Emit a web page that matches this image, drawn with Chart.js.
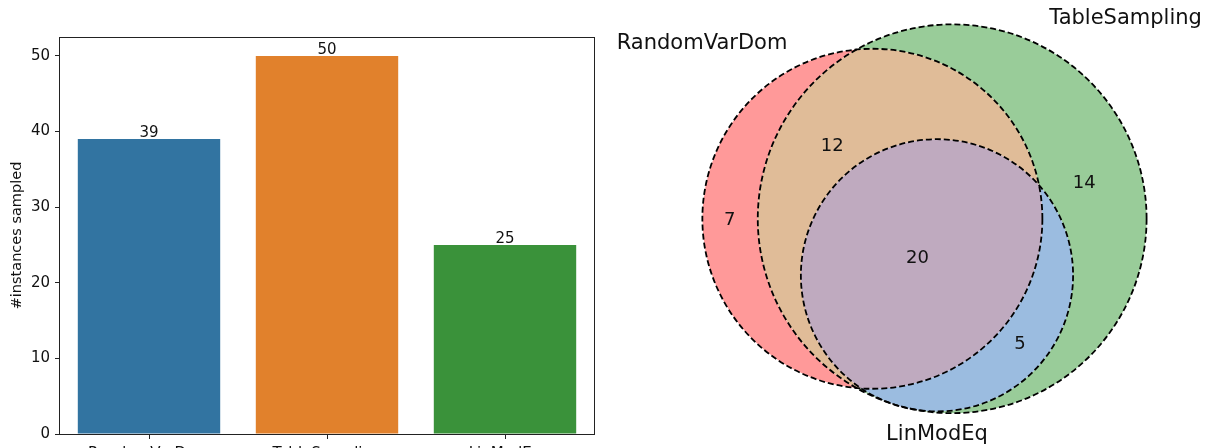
<!DOCTYPE html>
<html>
<head>
<meta charset="utf-8">
<title>Instances sampled</title>
<script src="https://cdn.jsdelivr.net/npm/chart.js@4.4.1/dist/chart.umd.min.js"></script>
<style>
  html, body { margin: 0; padding: 0; background: #fff; overflow: hidden; }
  #wrap { position: relative; width: 1211px; height: 448px; overflow: hidden; }
  #barChart { position: absolute; left: 0; top: 0; }
  #vennChart { position: absolute; left: 600px; top: 0; }
</style>
</head>
<body>
<div id="wrap">
  <canvas id="barChart" width="600" height="480"></canvas>
  <canvas id="vennChart" width="611" height="448"></canvas>
</div>
<script>
// Bar chart data
const methods = ['RandomVarDom', 'TableSampling', 'LinModEq'];
const sampledCounts = [39, 50, 25];
const barColors = ['#3274a1', '#e1812c', '#3a923a'];
const yTicks = [0, 10, 20, 30, 40, 50];

// Venn data: region membership (RandomVarDom, TableSampling, LinModEq) and counts
const vennSets = ['RandomVarDom', 'TableSampling', 'LinModEq'];
const vennRegions = ['100', '010', '001', '110', '101', '011', '111'];
const vennCounts = [7, 14, 0, 12, 0, 5, 20];

// Venn layout (in venn units, radius = sqrt(size / pi))
const vennCenterX = [-0.987, 0.667, 0.352];
const vennCenterY = [0.44, 0.44, -0.732];
const regionLabelX = [-3.944, 3.403, 0, -1.82, 0, 2.073, -0.052];
const regionLabelY = [0.45, 1.223, 0, 1.983, 0, -2.12, -0.346];
const setLabelX = [-2.749, 2.68, 0.352];
const setLabelY = [3.963, 4.469, -4.135];
const setLabelAlign = ['right', 'left', 'center'];
const regionColors = {
    '100': '#ff9999', '010': '#99cc99', '001': '#9999ff',
    '110': '#e0bc98', '101': '#df99df', '011': '#9bbce0', '111': '#bfaabf'
};

const FONT = '"DejaVu Sans", sans-serif';
const TEXT = '#111';

// set sizes from the region counts
const setSizes = vennSets.map((s, i) =>
    vennRegions.reduce((acc, r, j) => acc + (r[i] === '1' ? vennCounts[j] : 0), 0));
const vennRadius = setSizes.map(n => Math.sqrt(n / Math.PI));

// Frame around the plot area (matplotlib spines)
const framePlugin = {
    id: 'frame',
    afterDraw(chart) {
        const { ctx, chartArea: a } = chart;
        ctx.save();
        ctx.strokeStyle = '#222';
        ctx.lineWidth = 1;
        ctx.strokeRect(Math.round(a.left) - 0.5, Math.round(a.top) + 0.5,
            Math.round(a.right - a.left) + 1, Math.round(a.bottom - a.top));
        ctx.restore();
    }
};

// Value labels above the bars
const valueLabels = {
    id: 'valueLabels',
    afterDatasetsDraw(chart) {
        const ctx = chart.ctx;
        const meta = chart.getDatasetMeta(0);
        ctx.save();
        ctx.font = '15px ' + FONT;
        ctx.fillStyle = TEXT;
        ctx.textAlign = 'center';
        ctx.textBaseline = 'alphabetic';
        meta.data.forEach((bar, i) => {
            ctx.fillText(String(sampledCounts[i]), bar.x, bar.y - 2);
        });
        ctx.restore();
    }
};

new Chart(document.getElementById('barChart'), {
    type: 'bar',
    data: {
        labels: methods,
        datasets: [{
            data: sampledCounts,
            backgroundColor: barColors,
            borderWidth: 0,
            barPercentage: 0.8,
            categoryPercentage: 1.0
        }]
    },
    options: {
        responsive: false,
        animation: false,
        devicePixelRatio: 1,
        layout: { padding: { top: 37, right: 6, left: 0, bottom: 0 } },
        plugins: { legend: { display: false }, tooltip: { enabled: false } },
        scales: {
            x: {
                grid: { drawOnChartArea: false, offset: false, tickLength: 5, color: '#222' },
                border: { display: false },
                ticks: { color: TEXT, font: { family: FONT, size: 15 }, padding: 6, maxRotation: 0, autoSkip: false },
                afterFit: s => { s.height = 46; }
            },
            y: {
                min: 0,
                max: 52.5,
                afterBuildTicks: s => { s.ticks = yTicks.map(v => ({ value: v })); },
                ticks: { color: TEXT, font: { family: FONT, size: 15 }, padding: 5 },
                grid: { drawOnChartArea: false, tickLength: 5, color: '#222' },
                border: { display: false },
                title: {
                    display: true,
                    text: '#instances sampled',
                    color: TEXT,
                    font: { family: FONT, size: 14.5 },
                    padding: { top: 9, bottom: 0 }
                },
                afterFit: s => { s.width = 60; }
            }
        }
    },
    plugins: [framePlugin, valueLabels]
});

// Venn diagram drawn through the chart's linear scales
const vennPlugin = {
    id: 'venn',
    beforeDatasetsDraw(chart) {
        const { ctx, scales: { x, y }, width, height } = chart;
        const circles = vennCenterX.map((cx, i) => ({
            x: x.getPixelForValue(cx),
            y: y.getPixelForValue(vennCenterY[i]),
            r: x.getPixelForValue(cx + vennRadius[i]) - x.getPixelForValue(cx)
        }));

        // regions
        vennRegions.forEach(region => {
            ctx.save();
            circles.forEach((c, i) => {
                ctx.beginPath();
                if (region[i] === '1') {
                    ctx.arc(c.x, c.y, c.r, 0, Math.PI * 2);
                    ctx.clip();
                } else {
                    ctx.rect(0, 0, width, height);
                    ctx.arc(c.x, c.y, c.r, 0, Math.PI * 2);
                    ctx.clip('evenodd');
                }
            });
            ctx.fillStyle = regionColors[region];
            ctx.fillRect(0, 0, width, height);
            ctx.restore();
        });

        // dashed outlines
        ctx.save();
        ctx.strokeStyle = '#000';
        ctx.lineWidth = 1.8;
        ctx.setLineDash([6, 3]);
        circles.forEach(c => {
            ctx.beginPath();
            ctx.arc(c.x, c.y, c.r, 0, Math.PI * 2);
            ctx.stroke();
        });
        ctx.restore();

        // region counts
        ctx.save();
        ctx.fillStyle = TEXT;
        ctx.font = '18px ' + FONT;
        ctx.textAlign = 'center';
        ctx.textBaseline = 'alphabetic';
        vennRegions.forEach((r, j) => {
            if (vennCounts[j] === 0) return;
            ctx.fillText(String(vennCounts[j]), x.getPixelForValue(regionLabelX[j]), y.getPixelForValue(regionLabelY[j]) + 6.6);
        });

        // set names
        ctx.font = '21px ' + FONT;
        vennSets.forEach((name, i) => {
            ctx.textAlign = setLabelAlign[i];
            ctx.fillText(name, x.getPixelForValue(setLabelX[i]), y.getPixelForValue(setLabelY[i]));
        });
        ctx.restore();
    }
};

new Chart(document.getElementById('vennChart'), {
    type: 'scatter',
    data: {
        datasets: [{
            data: vennCenterX.map((cx, i) => ({ x: cx, y: vennCenterY[i] })),
            pointRadius: 0
        }]
    },
    options: {
        responsive: false,
        animation: false,
        devicePixelRatio: 1,
        layout: { padding: 0 },
        plugins: { legend: { display: false }, tooltip: { enabled: false } },
        scales: {
            x: { type: 'linear', min: -6.632, max: 6.031, display: false },
            y: { type: 'linear', min: -4.311, max: 4.974, display: false }
        }
    },
    plugins: [vennPlugin]
});
</script>
</body>
</html>
